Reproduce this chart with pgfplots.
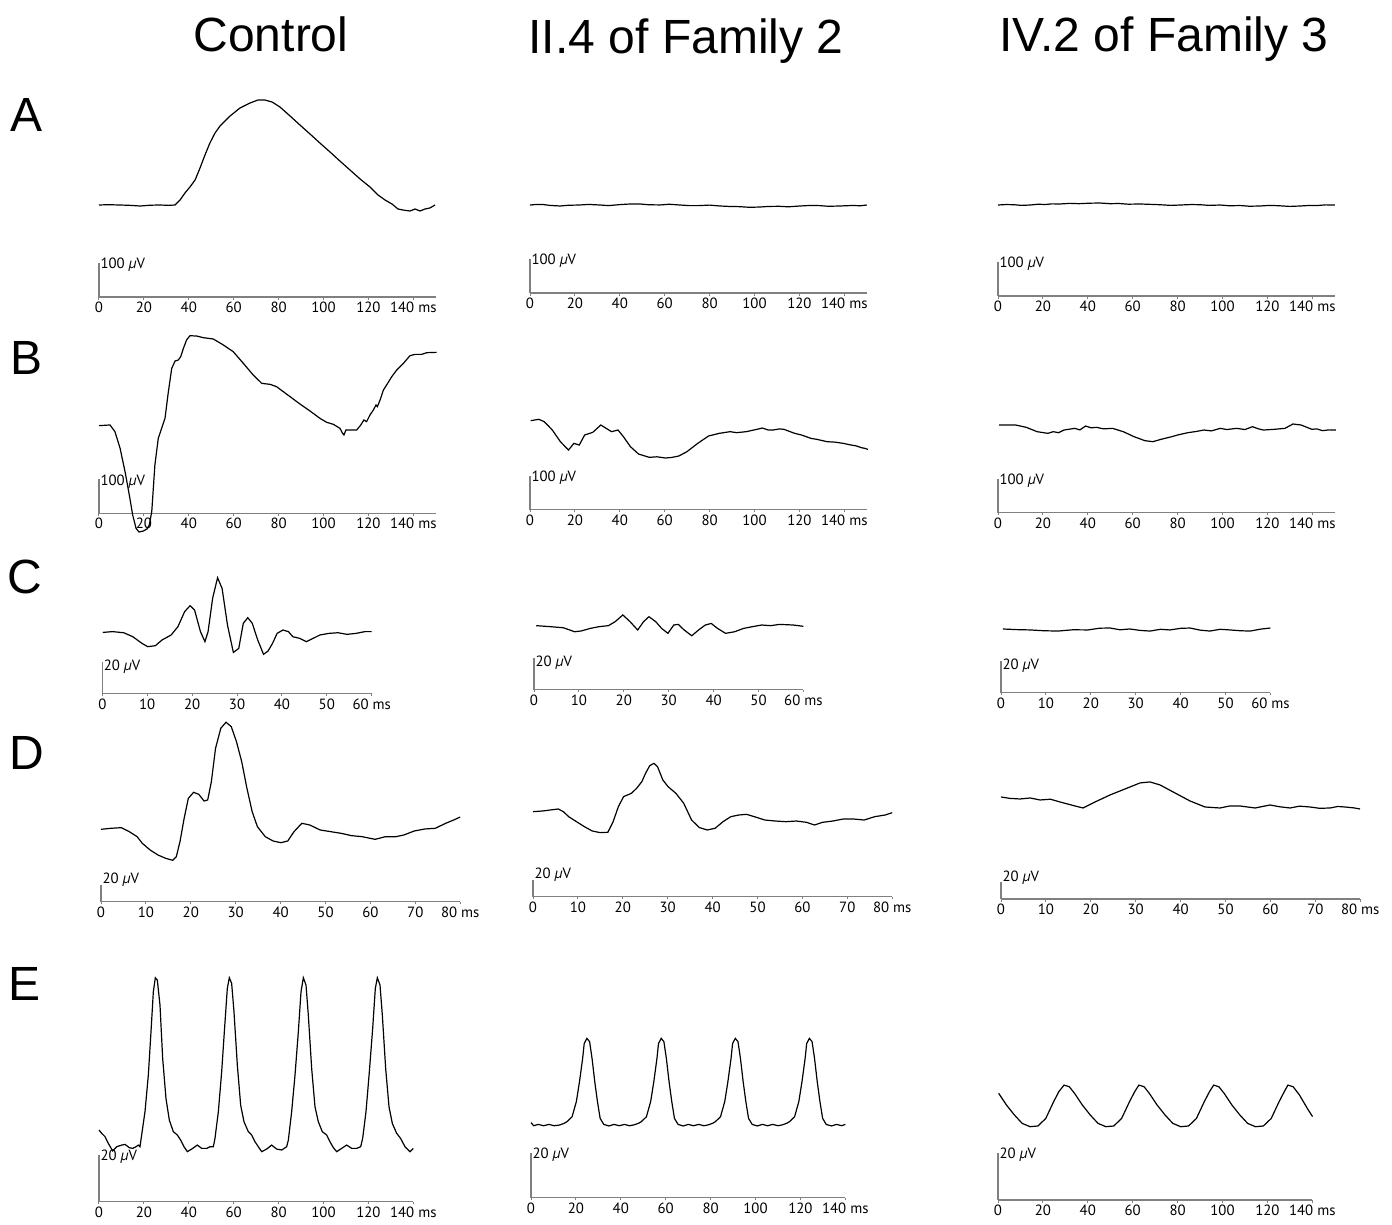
\documentclass[border=0pt]{standalone}
\usepackage{fontspec}
\setmainfont{Liberation Sans}
\newfontfamily\tickfamily{PT Sans}
\usepackage{pgfplots}
\pgfplotsset{compat=1.18}
\definecolor{axc}{HTML}{808080}
\newcommand\tickfont{\tickfamily\fontsize{7.4}{8}\selectfont}
\newcommand\bigfont{\fontsize{24}{28}\selectfont}
\pgfplotsset{
 panel/.style={
  anchor=south west, clip=false,
  axis x line=bottom, axis y line=none,
  xmin=0, ymin=0, enlargelimits=false,
  x axis line style={-, draw=axc, line width=0.55pt},
  xtick style={draw=axc, line width=0.5pt},
  tick align=outside, major tick length=1.3pt,
  xticklabel style={font=\tickfont, inner sep=1pt, text=black},
  /pgf/number format/assume math mode=true,
 },
 tr/.style={black, line width=0.6pt, mark=none},
 bar/.style={axc, line width=0.55pt, mark=none},
 msAB/.style={x=1.1225pt, y=0.17pt, xmax=150, ymax=100, xtick={0,20,...,140}, xticklabels={0,20,40,60,80,100,120,140 ms}},
 msE/.style={x=1.1225pt, xmax=140, ymax=20, xtick={0,20,...,140}, xticklabels={0,20,40,60,80,100,120,140 ms}},
 msC/.style={x=2.245pt, y=0.8pt, xmax=60, ymax=20, xtick={0,10,...,60}, xticklabels={0,10,20,30,40,50,60 ms}},
 msD/.style={x=2.245pt, y=0.4175pt, xmax=80, ymax=20, xtick={0,10,...,80}, xticklabels={0,10,20,30,40,50,60,70,80 ms}},
}
\newcommand\barlabel[3]{\node[anchor=west, font=\tickfont, inner sep=0.6pt, yshift=#3] at (axis cs:0,#1) {#2 \textit{µ}V};}
\begin{document}
\begin{tikzpicture}
\useasboundingbox (0,0) rectangle (696pt,-612.5pt);
% titles
\node[anchor=base, font=\bigfont] at (135.5pt,-26pt) {Control};
\node[anchor=base, font=\bigfont] at (343pt,-27pt) {II.4 of Family 2};
\node[anchor=base, font=\bigfont] at (582pt,-26pt) {IV.2 of Family 3};
\node[anchor=base, font=\bigfont] at (13.5pt,-66pt) {A};
\node[anchor=base, font=\bigfont] at (13.5pt,-187pt) {B};
\node[anchor=base, font=\bigfont] at (12.5pt,-296.5pt) {C};
\node[anchor=base, font=\bigfont] at (13.5pt,-384.5pt) {D};
\node[anchor=base, font=\bigfont] at (12.5pt,-500pt) {E};

% ---------- Row A ----------
\begin{axis}[panel, msAB, at={(49.5pt,-148.5pt)}]
\addplot[bar] coordinates {(0,0)(0,100)};
\barlabel{100}{100}{-1pt}
\addplot[tr] coordinates {(0,270.6)(4,271.5)(9.35,270.6)(14,269.5)(18.3,267.6)(23,270)(27.2,270.6)(31,269.5)(33.9,270.6)(36.1,285.3)(38.3,305.9)(40.5,323.5)(42.8,344.1)(45.0,379.4)(47.2,417.6)(49.4,452.9)(51.7,482.4)(53.9,502.9)(58.4,532.4)(62.8,555.9)(67.3,570.6)(70.8,579.4)(73.9,579.4)(77.1,573.5)(80.6,558.8)(85.1,532.4)(89.5,505.9)(94.0,479.4)(98.4,452.9)(102.9,426.5)(107.3,400)(111.8,373.5)(116.3,347.1)(120.7,323.5)(124.3,300)(127.4,285.3)(130.5,273.5)(133.2,258.8)(135.4,255.9)(138.5,252.9)(140.8,258.8)(143.0,252.9)(145.2,258.8)(147.4,261.8)(149.7,270.6)};
\end{axis}
\begin{axis}[panel, msAB, at={(265pt,-146.5pt)}]
\addplot[bar] coordinates {(0,0)(0,100)};
\barlabel{100}{100}{-1pt}
\addplot[tr] coordinates {(0,258.8)(3,260.5)(6,260)(9,257.5)(13.4,255.9)(17,258)(22,258.8)(26,260.5)(31.2,258.8)(35,257)(40,260)(44,261.5)(49,261.8)(53,259.5)(58,259)(62,261)(66.8,258.8)(71,257)(75,257)(80,258.5)(84.6,255.9)(89,254.5)(93,254)(98,252)(102.4,252.9)(106,254.5)(111,255)(115,253.5)(120.3,255.9)(125,257.5)(129,257)(133,255)(138.1,255.9)(144,257.5)(147,256.5)(150,258.8)};
\end{axis}
\begin{axis}[panel, msAB, at={(499pt,-148pt)}]
\addplot[bar] coordinates {(0,0)(0,100)};
\barlabel{100}{100}{-1pt}
\addplot[tr] coordinates {(0,267.6)(3.5,269)(7,268.5)(10.5,266.5)(14.3,267.6)(18,270)(21,269)(24,271)(27.6,270.6)(32,272.5)(36,271.5)(41,273)(45.4,273.5)(50,271.5)(54,272)(58,270)(63.3,270.6)(68,269.5)(72,268.5)(77,266.5)(81.1,267.6)(86,269)(90,268.5)(94,266.5)(98.9,267.6)(103,265.5)(108,266)(112,264)(116.7,264.7)(121,266.5)(125,265.5)(130,263.5)(134.5,264.7)(138,266)(142,266)(146,268)(150,267.6)};
\end{axis}

% ---------- Row B ----------
\begin{axis}[panel, msAB, at={(49.5pt,-256.65pt)}]
\addplot[bar] coordinates {(0,0)(0,100)};
\barlabel{100}{100}{-1pt}
\addplot[tr] coordinates {(0,257.8)(4.9,259.8)(7.1,240.1)(9.4,191.1)(11.6,122.5)(13.5,53.9)(15.0,-4.9)(16.5,-44.1)(17.8,-55)(19.8,-52)(21.4,-46)(22.4,-34.3)(23.5,4.9)(24.9,142.1)(26.4,220.5)(27.9,250)(29.4,279.4)(30.9,357.8)(32.4,426.4)(33.9,448)(35.3,450.8)(36.4,460.6)(37.6,485.2)(39.0,509.6)(40.5,522.3)(43.5,521.4)(46.5,516.5)(50.9,512.7)(55.4,495)(59.8,475.3)(64.3,441)(68.7,406.7)(72.5,382.2)(76.2,379.3)(79.1,372.4)(85.1,343.1)(89.5,321.5)(94.0,300.9)(98.4,279.4)(101.4,267.6)(104.4,261.7)(107.3,250)(108.5,235.3)(109.1,230.4)(110.0,245.1)(111.8,245.1)(114.8,245.1)(116.6,259.8)(118.0,274.5)(119.2,269.6)(120.7,289.2)(122.2,303.9)(123.4,318.6)(124.0,313.7)(125.2,333.2)(126.7,362.6)(128.1,377.3)(130.4,401.8)(132.6,421.4)(135.6,441)(138.5,463.5)(140.8,467.5)(143.7,467.5)(146.0,472.4)(150.4,473.4)};
\end{axis}
\begin{axis}[panel, msAB, at={(265pt,-254.75pt)}]
\addplot[bar] coordinates {(0,0)(0,100)};
\barlabel{100}{100}{-1pt}
\addplot[tr] coordinates {(0.3,261.3)(3.95,265.2)(6.35,258.3)(9.94,233.8)(13.54,199.4)(17.14,174.9)(19.54,194.5)(21.94,189.6)(24.34,219)(27.94,226.9)(31.54,248.5)(33.93,238.7)(36.33,228.9)(39.21,233.8)(41.61,214.2)(44.73,184.8)(48.33,163.2)(53.13,153.4)(56.5,155)(60.33,151.5)(63,153)(66.32,157.4)(69.92,170.1)(74.72,194.6)(79.52,216.2)(84.31,224)(89.11,228.9)(92,226)(96.31,228.9)(101.1,235.8)(103.5,239.7)(106,234)(108.3,233.8)(111,237)(113.1,235.8)(117.9,224)(121,219)(125.1,209.3)(128,206)(132.3,199.5)(136,198)(139.5,194.6)(142,191)(145.5,186.8)(147.5,182)(149.1,179.9)(150.5,176.9)};
\end{axis}
\begin{axis}[panel, msAB, at={(499pt,-256.25pt)}]
\addplot[bar] coordinates {(0,0)(0,100)};
\barlabel{100}{100}{-1pt}
\addplot[tr] coordinates {(0.5,257.4)(7.8,257.4)(12.6,250.5)(17.4,237.7)(22.2,232.8)(24.6,237.7)(27.0,234.8)(29.4,242.6)(34.2,247.5)(36.5,243)(39.0,254.4)(41.5,249)(43.8,250.5)(47,246)(51.0,247.5)(55.8,237.7)(60.6,223)(65.4,211.3)(69.0,208.3)(72.6,215.2)(77.4,223)(80,228)(84.6,234.8)(88,238)(91.8,242.6)(95,240)(99.0,247.5)(102,244)(106.2,247.5)(110,244)(113.4,252.4)(116,246)(118.2,242.6)(123.0,244.6)(127.8,247.5)(131.4,260.3)(135.0,257.4)(139.8,244.6)(142,246)(144.5,240.7)(147.5,243)(150.5,242.6)};
\end{axis}

% ---------- Row C ----------
\begin{axis}[panel, msC, at={(51.15pt,-346.85pt)}]
\addplot[bar] coordinates {(0,0)(0,20)};
\barlabel{20}{20}{-2.5pt}
\addplot[tr] coordinates {(0.1,38.3)(2.28,38.8)(4.79,38.1)(6.80,35.6)(8.81,31.5)(10.11,29.4)(11.82,30.0)(13.32,33.6)(15.33,36.7)(16.84,41.9)(18.34,51.3)(19.55,55.0)(20.55,52.3)(21.86,38.8)(22.86,32.5)(23.56,38.8)(24.57,59.6)(25.67,72.5)(26.68,65.8)(27.88,42.9)(29.19,25.8)(30.39,28.3)(31.40,44.0)(32.40,47.5)(33.40,44.0)(34.61,33.6)(35.91,24.6)(36.92,26.7)(37.92,31.5)(38.93,37.7)(40.23,39.8)(41.44,38.8)(42.44,35.6)(43.95,34.6)(45.45,32.5)(46.96,34.6)(48.46,36.7)(50.47,37.7)(52.48,38.1)(54.49,37.1)(56.5,37.7)(58.5,38.8)(60,38.8)};
\end{axis}
\begin{axis}[panel, msC, at={(267pt,-344.75pt)}]
\addplot[bar] coordinates {(0,0)(0,20)};
\barlabel{20}{20}{-2.5pt}
\addplot[tr] coordinates {(0.5,39.9)(3.52,39.3)(6.53,38.6)(9.04,36.1)(10.55,36.6)(12.55,38.2)(14.56,39.3)(16.57,39.9)(18.08,42.4)(19.78,46.6)(21.39,42.4)(23.09,37.2)(24.40,42.4)(25.60,45.5)(27.11,42.4)(28.42,38.2)(29.82,35.1)(31.13,40.3)(32.13,40.7)(33.44,37.2)(35.14,33.6)(36.65,37.2)(38.15,40.3)(39.46,41.3)(40.87,38.2)(42.67,35.1)(44.68,36.1)(46.69,38.2)(48.70,39.3)(50.71,40.3)(52.71,39.9)(54.72,40.7)(57.73,40.3)(60,39.5)};
\end{axis}
\begin{axis}[panel, msC, at={(500.5pt,-346.25pt)}]
\addplot[bar] coordinates {(0,0)(0,20)};
\barlabel{20}{20}{-2.5pt}
\addplot[tr] coordinates {(0.4,39.7)(3.5,39.3)(6.5,39.1)(9.5,38.6)(12.7,38.4)(16,39.2)(19.4,39.1)(22,40.2)(24.3,40.3)(26.5,39.2)(28.7,39.7)(31,38.8)(33.2,38.4)(35.5,39.5)(37.6,39.1)(40,40.1)(42.1,40.3)(44.3,39)(46.5,38.4)(48.8,39.5)(51.0,39.1)(53.3,38.6)(55.5,38.4)(57.8,39.6)(60,40.3)};
\end{axis}

% ---------- Row D ----------
\begin{axis}[panel, msD, at={(50.5pt,-450.85pt)}]
\addplot[bar] coordinates {(0,0)(0,20)};
\barlabel{20}{20}{2.5pt}
\addplot[tr] coordinates {(0,86.7)(2.21,87.9)(4.54,88.7)(6.29,83.9)(8.04,77.9)(9.2,69.9)(10.95,61.9)(12.7,55.9)(14.44,51.9)(15.96,49.6)(16.77,53.9)(17.59,71.9)(18.52,99.9)(19.45,123.8)(20.62,131)(21.78,128.6)(22.95,120.6)(23.76,121.8)(24.58,143.8)(25.51,183.7)(26.68,207.7)(27.84,214.9)(29.01,209.7)(30.17,191.7)(31.34,167.7)(32.5,135.8)(33.67,107.8)(34.83,89.9)(36.58,77.9)(38.33,72.7)(40.07,70.7)(41.59,72.7)(42.99,83.9)(44.73,93.9)(46.48,91.9)(48.81,85.9)(51.14,83.9)(53.47,81.9)(55.8,79.1)(58.13,77.9)(61.04,74.7)(63.37,77.9)(65.70,77.9)(67.45,79.9)(69.78,84.7)(72.11,87.1)(74.44,87.9)(76.77,93.9)(78.52,97.8)(80,101.4)};
\end{axis}
\begin{axis}[panel, msD, at={(266.5pt,-448.25pt)}]
\addplot[bar] coordinates {(0,0)(0,20)};
\barlabel{20}{20}{2.5pt}
\addplot[tr] coordinates {(0,101.6)(2.11,102.4)(3.86,103.6)(5.61,104.8)(6.77,101.6)(7.94,95.6)(9.69,89.6)(11.43,83.7)(13.18,78.5)(14.93,76.5)(16.68,76.9)(17.84,89.6)(19.01,107.6)(20.17,119.6)(21.92,123.6)(23.08,129.6)(24.25,137.6)(25.06,147.5)(26.0,156.7)(26.93,159.5)(27.74,155.5)(28.91,139.6)(30.07,131.6)(31.82,123.6)(33.57,111.6)(35.32,91.6)(37.06,82.5)(38.81,79.7)(40.56,81.7)(42.31,89.6)(44.05,95.6)(45.80,97.6)(47.55,98.4)(49.3,95.6)(51.63,91.6)(53.96,90.4)(56.29,89.6)(58.62,90.4)(60.95,88.8)(62.69,85.6)(64.44,88.8)(66.77,90.4)(69.10,92.8)(71.43,92.8)(73.76,91.6)(76.09,95.6)(78.42,97.6)(80,100.4)};
\end{axis}
\begin{axis}[panel, msD, at={(500.5pt,-449.5pt)}]
\addplot[bar] coordinates {(0,0)(0,20)};
\barlabel{20}{20}{2.5pt}
\addplot[tr] coordinates {(0,122.2)(2,120.5)(4.23,119.8)(6.5,121)(8.69,118.6)(11,119.5)(13.14,116.2)(16.48,111.4)(18.26,109.0)(20.94,116.2)(24.28,124.6)(27.62,131.8)(30.96,139.0)(33.18,140.2)(35.41,136.6)(38.75,127.0)(42.09,117.4)(45.43,110.2)(48.78,109.0)(51,111.5)(53.23,111.4)(56.57,109.0)(59.91,112.6)(62,110.5)(64.37,109.0)(66.5,111.2)(68.82,110.2)(71,108.6)(73.27,109.0)(75,110.8)(76.61,110.2)(78.5,109.2)(79.96,107.8)};
\end{axis}

% ---------- Row E ----------
\begin{axis}[panel, msE, y=1.175pt, at={(49.5pt,-600.85pt)}]
\addplot[bar] coordinates {(0,0)(0,20)};
\barlabel{20}{20}{-1pt}
\addplot[tr] coordinates {(0,30.5)(1.19,29.1)(2.67,27.7)(4.16,24.8)(6.09,21.6)(7.87,23.4)(10.10,24.1)(11.58,24.4)(13.51,23.0)(15.0,22.7)(16.48,23.4)(17.52,24.1)(18.26,23.4)(19.0,28.4)(20.49,38.3)(21.98,53.9)(23.16,72.3)(24.20,89.3)(25.09,95.3)(25.98,94.3)(27.17,83.7)(28.36,61.0)(29.84,43.9)(31.33,34.7)(33.11,29.8)(34.89,28.4)(36.38,26.2)(37.86,23.4)(39.35,21.3)(41.28,22.4)(43.80,24.1)(45.73,22.7)(47.96,22.7)(49.44,23.4)(50.93,23.4)(51.67,27.0)(53.16,38.3)(54.64,55.3)(55.83,72.3)(57.16,90.8)(58.05,95.3)(59.09,92.9)(60.13,80.8)(61.62,58.1)(63.10,41.1)(64.59,34.0)(66.52,29.8)(68.0,28.4)(69.49,25.5)(70.97,23.4)(72.46,21.3)(74.69,22.4)(76.91,24.1)(79.14,22.4)(81.37,22.0)(83.59,23.4)(84.34,26.2)(85.82,38.3)(87.31,53.9)(88.79,72.3)(89.98,89.3)(91.02,95.3)(92.21,92.2)(93.24,79.4)(94.73,56.7)(96.21,40.4)(97.70,34.0)(99.48,29.8)(101.41,28.4)(102.9,25.5)(104.38,23.0)(105.87,21.3)(108.09,22.7)(110.32,24.1)(112.55,22.7)(114.77,22.7)(116.56,23.4)(117.45,27.0)(118.93,38.3)(120.42,55.3)(121.9,73.7)(123.09,90.8)(123.98,95.3)(125.17,92.2)(126.21,79.4)(127.69,56.7)(129.18,40.4)(130.66,33.3)(132.59,29.1)(134.37,26.9)(136.30,23.4)(138.53,21.3)(140.0,22.7)};
\end{axis}
\begin{axis}[panel, msE, y=1.1175pt, at={(265.5pt,-598.85pt)}]
\addplot[bar] coordinates {(0,0)(0,20)};
\barlabel{20}{20}{-1pt}
\addplot[tr] coordinates {(0,33.6)(1.2,32.2)(3.3,32.8)(5.6,32.2)(8.0,32.8)(10.3,32.2)(12.7,32.5)
(14.8,33.3)(16.0,34.0)(18.3,36.2)(20.2,43.0)(21.6,51.9)(23.0,62.3)(23.7,69.0)(24.9,71.3)(26.1,69.8)(27.2,62.3)(28.4,51.9)(29.6,43.0)(30.8,35.5)(32.4,32.8)(34.7,32.1)(37.0,32.8)(39.3,32.2)(41.6,32.8)(43.9,32.2)(45.9,32.6)
(47.9,33.3)(49.1,34.0)(51.4,36.2)(53.3,43.0)(54.7,51.9)(56.1,62.3)(56.8,69.0)(58.0,71.3)(59.2,69.8)(60.3,62.3)(61.5,51.9)(62.7,43.0)(63.9,35.5)(65.5,32.8)(67.8,32.1)(70.1,32.8)(72.4,32.2)(74.7,32.8)(77.0,32.2)(79.0,32.6)
(80.9,33.3)(82.1,34.0)(84.4,36.2)(86.3,43.0)(87.7,51.9)(89.1,62.3)(89.8,69.0)(91.0,71.3)(92.2,69.8)(93.3,62.3)(94.5,51.9)(95.7,43.0)(96.9,35.5)(98.5,32.8)(100.8,32.1)(103.1,32.8)(105.4,32.2)(107.7,32.8)(110.0,32.2)(112.0,32.6)
(113.9,33.3)(115.1,34.0)(117.4,36.2)(119.3,43.0)(120.7,51.9)(122.1,62.3)(122.8,69.0)(124.0,71.3)(125.2,69.8)(126.3,62.3)(127.5,51.9)(128.7,43.0)(129.9,35.5)(131.5,32.8)(133.8,32.1)(136.1,32.8)(138.4,32.2)(140.0,32.8)};
\end{axis}
\begin{axis}[panel, msE, y=1.175pt, at={(499pt,-600pt)}]
\addplot[bar] coordinates {(0,0)(0,20)};
\barlabel{20}{20}{-1pt}
\addplot[tr] coordinates {(0.3,45.4)(3.79,40.4)(7.29,36.2)(10.78,32.6)(14.28,31.2)(17.77,31.5)(21.27,34.7)(24.76,41.8)(27.09,46.1)(29.42,48.9)(31.75,48.2)(34.08,45.4)(37.58,40.4)(41.07,36.2)(44.57,32.6)(48.06,31.2)(51.56,31.5)(55.05,34.7)(58.55,41.8)(60.88,46.1)(62.74,48.9)(65.07,48.2)(67.40,45.4)(70.89,40.4)(74.39,36.2)(77.88,32.6)(81.38,31.2)(84.87,31.5)(88.37,34.7)(91.86,41.8)(94.19,46.1)(96.06,48.9)(98.39,48.2)(100.72,45.4)(104.21,40.4)(107.71,36.2)(111.2,32.6)(114.7,31.2)(118.19,31.5)(121.69,34.7)(125.18,41.8)(127.51,46.1)(129.14,48.9)(131.47,48.2)(134.27,44.7)(137.77,39.0)(140.1,35.5)};
\end{axis}
\end{tikzpicture}
\end{document}
